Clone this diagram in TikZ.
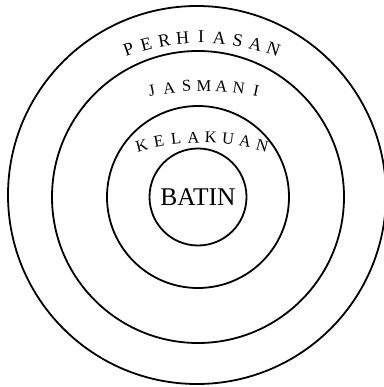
\documentclass[tikz,border=0pt]{standalone}
\usepackage{fontspec}
\setmainfont{Liberation Serif}

\begin{document}
\begin{tikzpicture}[
  x=1pt,y=1pt,
  ring/.style={draw,circle,line width=1.8pt,inner sep=0pt},
  ringletter/.style={anchor=base,inner sep=0pt,font=\fontsize{16.5}{19}\selectfont}
]
\useasboundingbox (-198,-190) rectangle (185,197);

% Rings
\node[ring,minimum size=378pt] (perhiasan) at (-1,2) {};
\node[ring,minimum size=292pt] (jasmani) at (0,0) {};
\node[ring,minimum size=182pt] (kelakuan) at (0,0) {};
\node[ring,minimum size=97pt,font=\fontsize{25.5}{30}\selectfont] (batin) at (0,0) {BATIN};

% Ring labels, one letter at a time along an arc
\foreach \ch [count=\i from 0] in {P,E,R,H,I,A,S,A,N}{
  \pgfmathsetmacro\ang{109.6-4.9*\i}
  \node[ringletter,font=\fontsize{18}{21}\selectfont,rotate=\ang-90] (p-\i) at ([shift={(3,-56)}]\ang:210) {\ch};
}
\foreach \ch [count=\i from 0] in {J,A,S,M,A,N,I}{
  \pgfmathsetmacro\ang{101.8-3.93*\i}
  \node[ringletter,rotate=\ang-90] (j-\i) at ([shift={(6,-144)}]\ang:250) {\ch};
}
\foreach \ch [count=\i from 0] in {K,E,L,A,K,U,A,N}{
  \pgfmathsetmacro\ang{104.7-4.2*\i}
  \node[ringletter,rotate=\ang-90] (k-\i) at ([shift={(4,-178)}]\ang:232) {\ch};
}
\end{tikzpicture}
\end{document}
